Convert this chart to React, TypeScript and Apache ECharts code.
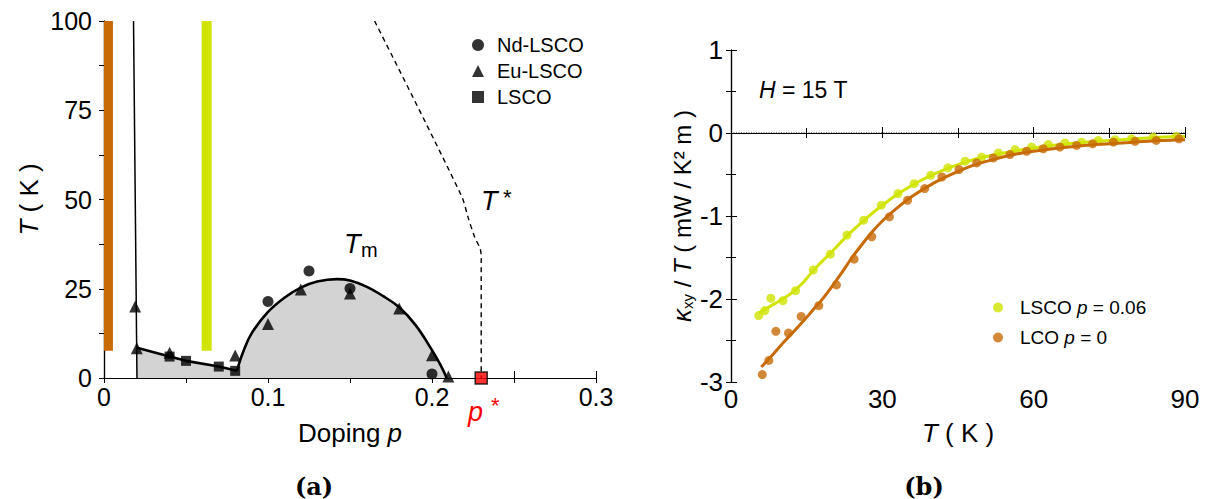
import React, { useEffect, useRef } from "react";
import * as echarts from "echarts";

const FONT = "'Liberation Sans', Arial, Helvetica, sans-serif";
const ORANGE = "#c86a06";
const YELLOW = "#d0e400";

// ---------- Panel (a): phase diagram ----------
const lcoBar = [[0.0027, 7.6], [0.0027, 100]];
const lscoBar = [[0.0626, 7.6], [0.0626, 100]];
const spinGlassEdge = [[0.018, 100], [0.0201, 0]];
const lowDopingLine = [[0.0201, 8.5], [0.04, 6.0], [0.05, 4.8], [0.07, 3.2], [0.081, 2.0]];
const tmDome = [
  [0.081, 2.0], [0.085, 7.5], [0.09, 12.5], [0.1, 18.5], [0.11, 22.5], [0.12, 25.3],
  [0.13, 27.0], [0.142, 27.7], [0.15, 27.3], [0.16, 25.6], [0.17, 23.0], [0.18, 19.8],
  [0.19, 14.8], [0.2, 7.8], [0.205, 3.8], [0.209, 0],
];
const tStarLine = [[0.165, 100], [0.218, 51], [0.222, 45], [0.226, 39.5], [0.2295, 36], [0.23, 33], [0.23, 0]];
const ndLsco = [[0.1, 21.4], [0.125, 30.0], [0.15, 25.1], [0.2, 1.1]];
const euLsco = [
  [0.019, 20.0], [0.02, 8.3], [0.04, 7.1], [0.08, 6.3], [0.1, 15.1], [0.12, 24.8],
  [0.15, 23.7], [0.18, 19.5], [0.2, 6.4], [0.21, 0.4],
];
const lsco = [[0.04, 6.0], [0.05, 4.8], [0.07, 3.2], [0.08, 2.0]];
const pStar = [[0.23, 0]];

// ---------- Panel (b): kappa_xy / T ----------
const lscoPoints = [
  [5.5, -2.2], [6.7, -2.14], [7.9, -1.99], [10.3, -2.02], [12.8, -1.9], [16.3, -1.65],
  [19.7, -1.46], [23.0, -1.23], [26.3, -1.05], [29.8, -0.87], [33.1, -0.73], [36.3, -0.61],
  [39.6, -0.51], [43.0, -0.42], [46.4, -0.34], [49.7, -0.29], [53.0, -0.24], [56.3, -0.2],
  [59.6, -0.17], [62.9, -0.14], [66.2, -0.12], [69.5, -0.11], [72.8, -0.09], [76.1, -0.08],
  [79.4, -0.07], [83.7, -0.05], [88.3, -0.04],
];
const lcoPoints = [
  [6.2, -2.91], [7.5, -2.74], [8.9, -2.39], [11.4, -2.41], [13.9, -2.21], [17.4, -2.08],
  [20.9, -1.83], [24.4, -1.52], [27.9, -1.25], [31.4, -1.01], [35.0, -0.81], [38.4, -0.67],
  [41.8, -0.53], [45.2, -0.44], [48.7, -0.36], [52.0, -0.3], [55.3, -0.26], [58.6, -0.22],
  [61.9, -0.19], [65.2, -0.17], [68.5, -0.15], [71.7, -0.13], [75.8, -0.11], [80.1, -0.1],
  [84.3, -0.09], [88.8, -0.07],
];
const lscoFit = [
  [5.5, -2.17], [8, -2.08], [10, -2.01], [12, -1.93], [14, -1.82], [16, -1.68], [18, -1.55],
  [20, -1.43], [23, -1.24], [26, -1.07], [30, -0.87], [34, -0.7], [38, -0.56], [42, -0.45],
  [46, -0.36], [50, -0.29], [55, -0.23], [60, -0.18], [65, -0.14], [70, -0.11], [75, -0.09],
  [80, -0.07], [85, -0.05], [90, -0.04],
];
const lcoFit = [
  [6, -2.82], [8, -2.69], [10, -2.55], [12, -2.42], [14, -2.29], [16, -2.15], [18, -2.01],
  [20, -1.85], [22, -1.68], [24, -1.5], [26, -1.34], [28, -1.19], [30, -1.06], [33, -0.9],
  [36, -0.76], [40, -0.61], [44, -0.49], [48, -0.39], [52, -0.32], [56, -0.26], [60, -0.22],
  [65, -0.18], [70, -0.15], [75, -0.13], [80, -0.11], [85, -0.09], [90, -0.08],
];
const zeroLine = [[0, 0], [90, 0]];

const axisLineStyle = { show: true, lineStyle: { color: "#000", width: 1.2 } };
const tickIn = (len: number) => ({ show: true, inside: true, length: len, lineStyle: { color: "#000", width: 1 } });
const noSplit = { show: false };

export default function App() {
  const ref = useRef<HTMLDivElement>(null);
  useEffect(() => {
    if (!ref.current) return;
    const chart = echarts.init(ref.current, undefined, { renderer: "svg" });
    const italicRich = { i: { fontStyle: "italic", fontSize: 26, fontFamily: FONT, color: "#000" } };
    chart.setOption({
      animation: false,
      backgroundColor: "#fff",
      textStyle: { fontFamily: FONT, color: "#000" },
      grid: [
        { left: 104, top: 21, width: 492, height: 357 },
        { left: 731, top: 50, width: 454, height: 332 },
      ],
      xAxis: [
        {
          gridIndex: 0, type: "value", min: 0, max: 0.3, interval: 0.1, position: "bottom",
          axisLine: axisLineStyle, axisTick: tickIn(7),
          minorTick: { show: true, splitNumber: 2, length: 7, lineStyle: { color: "#000" } },
          splitLine: noSplit, minorSplitLine: noSplit,
          axisLabel: { fontSize: 25, color: "#000", margin: 6, fontFamily: FONT, formatter: (v: number) => String(+v.toFixed(2)) },
          name: "Doping {i|p}", nameLocation: "middle", nameGap: 42,
          nameTextStyle: { fontSize: 26, color: "#000", fontFamily: FONT, rich: italicRich },
        },
        {
          gridIndex: 0, type: "value", min: 0, max: 0.3, interval: 0.05, position: "top",
          axisLine: axisLineStyle, axisTick: tickIn(5), axisLabel: { show: false }, splitLine: noSplit,
        },
        {
          gridIndex: 1, type: "value", min: 0, max: 90, interval: 30, position: "bottom",
          axisLine: axisLineStyle, axisTick: tickIn(6),
          minorTick: { show: true, splitNumber: 2, length: 5, lineStyle: { color: "#000" } },
          splitLine: noSplit, minorSplitLine: noSplit,
          axisLabel: { fontSize: 26, color: "#000", margin: 4, fontFamily: FONT },
          name: "{i|T} ( K )", nameLocation: "middle", nameGap: 38,
          nameTextStyle: { fontSize: 26, color: "#000", fontFamily: FONT, rich: italicRich },
        },
        {
          gridIndex: 1, type: "value", min: 0, max: 90, interval: 15, position: "top",
          axisLine: axisLineStyle, axisTick: tickIn(5), axisLabel: { show: false }, splitLine: noSplit,
        },
      ],
      yAxis: [
        {
          gridIndex: 0, type: "value", min: 0, max: 100, interval: 25, position: "left",
          axisLine: axisLineStyle, axisTick: tickIn(7),
          minorTick: { show: true, splitNumber: 2, length: 7, lineStyle: { color: "#000" } },
          splitLine: noSplit, minorSplitLine: noSplit,
          axisLabel: { fontSize: 25, color: "#000", margin: 12, fontFamily: FONT },
          name: "{i|T} ( K )", nameLocation: "middle", nameGap: 62,
          nameTextStyle: { fontSize: 26, color: "#000", fontFamily: FONT, rich: italicRich },
        },
        {
          gridIndex: 0, type: "value", min: 0, max: 100, interval: 12.5, position: "right",
          axisLine: axisLineStyle, axisTick: tickIn(5), axisLabel: { show: false }, splitLine: noSplit,
        },
        {
          gridIndex: 1, type: "value", min: -3, max: 1, interval: 1, position: "left",
          axisLine: axisLineStyle, axisTick: tickIn(6),
          minorTick: { show: true, splitNumber: 2, length: 5, lineStyle: { color: "#000" } },
          splitLine: noSplit, minorSplitLine: noSplit,
          axisLabel: { fontSize: 26, color: "#000", margin: 8, fontFamily: FONT },
          name: "{k|κ}{s|xy} / {i|T} ( mW / K² m )", nameLocation: "middle", nameGap: 36,
          nameTextStyle: {
            fontSize: 24, color: "#000", fontFamily: FONT,
            rich: {
              i: { fontStyle: "italic", fontSize: 24, fontFamily: FONT, color: "#000" },
              k: { fontStyle: "italic", fontSize: 26, fontFamily: FONT, color: "#000" },
              s: { fontSize: 15, fontFamily: FONT, color: "#000", verticalAlign: "bottom", lineHeight: 26 },
            },
          },
        },
        {
          gridIndex: 1, type: "value", min: -3, max: 1, interval: 0.5, position: "right",
          axisLine: axisLineStyle, axisTick: tickIn(5), axisLabel: { show: false }, splitLine: noSplit,
        },
      ],
      legend: [
        {
          data: ["Nd-LSCO", "Eu-LSCO", "LSCO"], orient: "vertical", left: 472, top: 35, padding: 0,
          itemWidth: 12, itemHeight: 12, itemGap: 6, selectedMode: false,
          formatter: (n: string) => "{g|}" + n,
          textStyle: {
            fontSize: 20, color: "#000", fontFamily: FONT,
            rich: { g: { width: 8 } },
          },
        },
        {
          data: ["LSCO p = 0.06", "LCO p = 0"], orient: "vertical", left: 993, top: 298, padding: 0,
          itemWidth: 10, itemHeight: 10, itemGap: 11, selectedMode: false,
          formatter: (n: string) => "{g|}" + n.replace(" p ", " {i|p} "),
          textStyle: {
            fontSize: 19, color: "#000", fontFamily: FONT,
            rich: { g: { width: 12 }, i: { fontStyle: "italic", fontSize: 19, fontFamily: FONT, color: "#000" } },
          },
        },
      ],
      series: [
        { type: "line", xAxisIndex: 0, yAxisIndex: 0, data: lcoBar, symbol: "none", lineStyle: { color: ORANGE, width: 9 }, z: 1 },
        { type: "line", xAxisIndex: 0, yAxisIndex: 0, data: lscoBar, symbol: "none", lineStyle: { color: YELLOW, width: 10 }, z: 1 },
        {
          type: "line", xAxisIndex: 0, yAxisIndex: 0, data: lowDopingLine, symbol: "none",
          lineStyle: { color: "#000", width: 2.6 }, areaStyle: { color: "#d3d3d3", opacity: 1, origin: "start" }, z: 2,
        },
        {
          type: "line", xAxisIndex: 0, yAxisIndex: 0, data: tmDome, symbol: "none", smooth: 0.4,
          lineStyle: { color: "#000", width: 2.6 }, areaStyle: { color: "#d3d3d3", opacity: 1, origin: "start" }, z: 2,
        },
        { type: "line", xAxisIndex: 0, yAxisIndex: 0, data: spinGlassEdge, symbol: "none", lineStyle: { color: "#000", width: 1.5 }, z: 3 },
        {
          type: "line", xAxisIndex: 0, yAxisIndex: 0, data: tStarLine, symbol: "none", smooth: 0.3,
          lineStyle: { color: "#000", width: 1.4, type: [5, 4] }, z: 3,
        },
        { name: "Nd-LSCO", type: "scatter", xAxisIndex: 0, yAxisIndex: 0, data: ndLsco, symbol: "circle", symbolSize: 11, itemStyle: { color: "#000" }, clip: false, z: 5 },
        { name: "Eu-LSCO", type: "scatter", xAxisIndex: 0, yAxisIndex: 0, data: euLsco, symbol: "triangle", symbolSize: 12, itemStyle: { color: "#000" }, clip: false, z: 5 },
        { name: "LSCO", type: "scatter", xAxisIndex: 0, yAxisIndex: 0, data: lsco, symbol: "rect", symbolSize: 10, itemStyle: { color: "#000" }, clip: false, z: 5 },
        {
          type: "scatter", xAxisIndex: 0, yAxisIndex: 0, data: pStar, symbol: "rect", symbolSize: 12,
          itemStyle: { color: "#ff0000", borderColor: "#000", borderWidth: 1.5 }, clip: false, z: 6,
        },

        { type: "line", xAxisIndex: 2, yAxisIndex: 2, data: zeroLine, symbol: "none", lineStyle: { color: "#000", width: 1, type: [1, 1.5] }, z: 1 },
        { type: "line", xAxisIndex: 2, yAxisIndex: 2, data: lscoFit, symbol: "none", smooth: 0.3, lineStyle: { color: YELLOW, width: 3 }, z: 2 },
        { name: "LSCO p = 0.06", type: "scatter", xAxisIndex: 2, yAxisIndex: 2, data: lscoPoints, symbol: "circle", symbolSize: 9, itemStyle: { color: YELLOW }, clip: false, z: 3 },
        { type: "line", xAxisIndex: 2, yAxisIndex: 2, data: lcoFit, symbol: "none", smooth: 0.3, lineStyle: { color: ORANGE, width: 3 }, z: 4 },
        { name: "LCO p = 0", type: "scatter", xAxisIndex: 2, yAxisIndex: 2, data: lcoPoints, symbol: "circle", symbolSize: 9, itemStyle: { color: ORANGE }, clip: false, z: 5 },
      ],
      graphic: [
        { type: "text", x: 344, y: 244, style: { text: "T", fontSize: 27, fontStyle: "italic", fontFamily: FONT, fill: "#000", verticalAlign: "middle" } },
        { type: "text", x: 361, y: 250, style: { text: "m", fontSize: 20, fontFamily: FONT, fill: "#000", verticalAlign: "middle" } },
        { type: "text", x: 481, y: 201, style: { text: "T", fontSize: 27, fontStyle: "italic", fontFamily: FONT, fill: "#000", verticalAlign: "middle" } },
        { type: "text", x: 503, y: 197, style: { text: "*", fontSize: 22, fontFamily: FONT, fill: "#000", verticalAlign: "middle" } },
        { type: "text", x: 468, y: 412, style: { text: "p", fontSize: 27, fontStyle: "italic", fontFamily: FONT, fill: "#ff0000", verticalAlign: "middle" } },
        { type: "text", x: 491, y: 405, style: { text: "*", fontSize: 22, fontFamily: FONT, fill: "#ff0000", verticalAlign: "middle" } },
        {
          type: "text", x: 759, y: 90,
          style: {
            text: "{i|H} = 15 T", fontSize: 23, fontFamily: FONT, fill: "#000", verticalAlign: "middle",
            rich: { i: { fontStyle: "italic", fontSize: 23, fontFamily: FONT, fill: "#000" } },
          },
        },
        { type: "text", x: 314, y: 486, style: { text: "(a)", fontSize: 24, fontWeight: "bold", fontFamily: "'DejaVu Serif', serif", fill: "#000", align: "center", verticalAlign: "middle" } },
        { type: "text", x: 924, y: 486, style: { text: "(b)", fontSize: 24, fontWeight: "bold", fontFamily: "'DejaVu Serif', serif", fill: "#000", align: "center", verticalAlign: "middle" } },
      ],
    });
    return () => chart.dispose();
  }, []);
  return <div ref={ref} style={{ position: "fixed", left: 0, top: 0, width: 1206, height: 499 }} />;
}
